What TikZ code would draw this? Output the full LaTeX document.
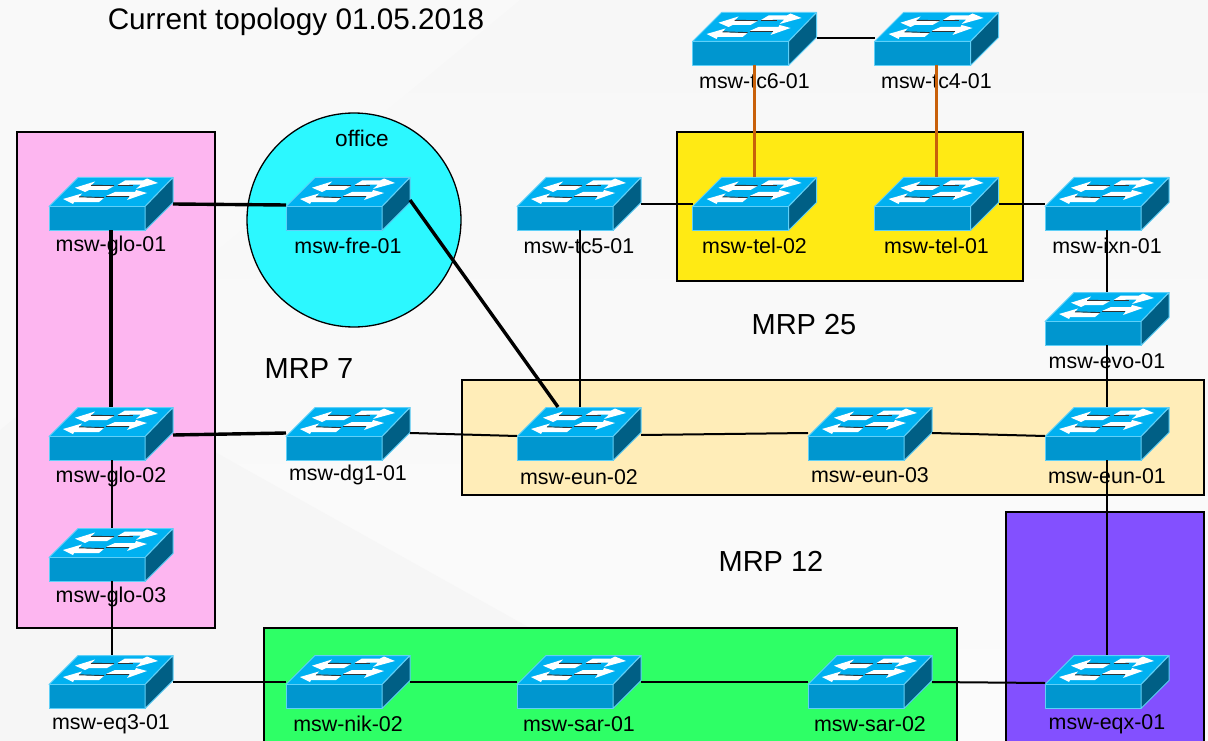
\documentclass[tikz,border=0pt]{standalone}
\usepackage{fontspec}
\setmainfont{Liberation Sans}
\definecolor{bgtop}{HTML}{F7F7F7}
\definecolor{bgbottom}{HTML}{FBFBFB}
\definecolor{bgsoft}{HTML}{F6F6F6}
\definecolor{bgpale}{HTML}{F9F9F9}
\definecolor{swtop}{HTML}{00B1F1}
\definecolor{swfront}{HTML}{0096CF}
\definecolor{swside}{HTML}{005F85}
\definecolor{swedge}{HTML}{5FD0F8}
\definecolor{pinkzone}{HTML}{FDB6F0}
\definecolor{cyanzone}{HTML}{2CF8FF}
\definecolor{yellowzone}{HTML}{FFEA14}
\definecolor{creamzone}{HTML}{FFEDB8}
\definecolor{purplezone}{HTML}{8350FF}
\definecolor{greenzone}{HTML}{2EFF66}
\definecolor{orangelink}{HTML}{C8600A}
\tikzset{
  x=1pt,y=-1pt,
  zone/.style={draw=black,line width=1.3pt},
  swbox/.style={rectangle,minimum width=124pt,minimum height=53pt,inner sep=0pt,outer sep=0pt},
  swlabel/.style={inner sep=0pt,font=\fontsize{21.4}{24}\selectfont},
  officelabel/.style={inner sep=0pt,font=\fontsize{22.6}{26}\selectfont},
  bigtext/.style={inner sep=0pt,font=\fontsize{29.7}{34}\selectfont},
  mrptext/.style={inner sep=0pt,font=\fontsize{29}{34}\selectfont},
  thinlink/.style={draw=black,line width=2pt},
  thicklink/.style={draw=black,line width=3.4pt},
  orangeline/.style={draw=orangelink,line width=3.5pt},
  swfacet/.style={draw=swedge,line width=1pt,line join=round},
  swarrow/.style={fill=white,draw=none},
  swshadow/.style={draw=black!80,line width=.9pt}
}
% name, left, top, label, label offset from top
\newcommand{\swunit}[5]{%
  \begin{scope}[shift={(#2,#3)}]
    \fill[swtop,swfacet] (0,29.5) -- (29,.5) -- (124,.5) -- (96,29.5) -- cycle;
    \fill[swfront,swfacet] (0,29.5) rectangle (96,53.5);
    \fill[swside,swfacet] (96,29.5) -- (124,.5) -- (124,25.5) -- (96,53.5) -- cycle;
    % upper right arrow
    \fill[swarrow] (76,3.5) -- (94,3.5) -- (98,1.5) -- (109,6) -- (87,12) -- (92,7.5) -- (68.5,8) -- cycle;
    \draw[swshadow] (68.5,8.4) -- (84,8.4);
    % upper left arrow
    \fill[swarrow] (26,10.7) -- (46,4.5) -- (42,8.5) -- (65,9) -- (58,13) -- (40,13) -- (36,15) -- cycle;
    \draw[swshadow] (42,8.3) -- (65,8.6);
    % lower right arrow
    \fill[swarrow] (66,15) -- (86,15) -- (87,13) -- (98,16) -- (78,23) -- (81,19) -- (57,19) -- cycle;
    \draw[swshadow] (57,19.4) -- (80,19.4);
    % lower left arrow
    \fill[swarrow] (14,22) -- (33,16.5) -- (30,20) -- (55,21) -- (50,25) -- (25,25) -- (24,27) -- cycle;
    \draw[swshadow] (30,19.8) -- (55,20.6);
    \node[swbox,anchor=north west] (#1) at (0,0) {};
    \node[swlabel] (#1-label) at (62,#5) {#4};
  \end{scope}%
}
\begin{document}
\begin{tikzpicture}
\useasboundingbox (0,0) rectangle (1208,741);
\clip (0,0) rectangle (1208,741);
% background
\shade[top color=bgtop,bottom color=bgbottom] (0,0) rectangle (1208,741);
\fill[bgsoft] (0,332) -- (530,628) -- (730,741) -- (0,741) -- cycle;
\fill[bgpale] (0,0) -- (520,0) -- (0,430) -- cycle;
% zones
\draw[zone,fill=pinkzone] (17,132) rectangle (215,628);
\draw[zone,fill=cyanzone] (354,220) circle (107);
\draw[zone,fill=yellowzone] (677,132) rectangle (1023,281);
\draw[zone,fill=creamzone] (462,380) rectangle (1204,495);
\draw[zone,fill=purplezone] (1006,512) rectangle (1204,760);
\draw[zone,fill=greenzone] (264,628) rectangle (957,760);
% titles
\node[bigtext] (title) at (296,22) {Current topology 01.05.2018};
\node[officelabel] (office) at (362,138) {office};
\node[mrptext] (mrp7) at (309,369) {MRP 7};
\node[mrptext] (mrp25) at (804,325) {MRP 25};
\node[mrptext] (mrp12) at (771,561) {MRP 12};
% switches
\swunit{tc6}{692.5}{12}{msw-tc6-01}{69}
\swunit{tc4}{874.5}{12}{msw-tc4-01}{69}
\swunit{glo1}{49}{177}{msw-glo-01}{69}
\swunit{fre}{286}{177}{msw-fre-01}{69}
\swunit{tc5}{517}{177}{msw-tc5-01}{69}
\swunit{tel2}{692.5}{177}{msw-tel-02}{69}
\swunit{tel1}{874.5}{177}{msw-tel-01}{69}
\swunit{ixn}{1045}{177}{msw-ixn-01}{69}
\swunit{evo}{1045}{292}{msw-evo-01}{69.5}
\swunit{glo2}{49}{407}{msw-glo-02}{69.5}
\swunit{dg1}{286}{407}{msw-dg1-01}{68}
\swunit{eun2}{517}{407}{msw-eun-02}{70.5}
\swunit{eun3}{808}{407}{msw-eun-03}{68}
\swunit{eun1}{1045}{407}{msw-eun-01}{69.5}
\swunit{glo3}{49}{528}{msw-glo-03}{69}
\swunit{eq3}{49}{655}{msw-eq3-01}{69}
\swunit{nik}{286}{655}{msw-nik-02}{69}
\swunit{sar1}{517}{655}{msw-sar-01}{69}
\swunit{sar2}{808}{655}{msw-sar-02}{69}
\swunit{eqx}{1045}{655}{msw-eqx-01}{69}
% thick links
\draw[thicklink] ([yshift=-.5pt]glo1.east) -- ([yshift=-1.5pt]fre.west);
\draw[thicklink] (glo1.south) -- (glo2.north);
\draw[thicklink] ([yshift=-1.5pt]glo2.east) -- ([yshift=.5pt]dg1.west);
\draw[thicklink] ([yshift=3.5pt]fre.east) -- ([xshift=-21pt]eun2.north);
% thin links
\draw[thinlink] ([yshift=.5pt]dg1.east) -- ([yshift=-2.5pt]eun2.west);
\draw[thinlink] ([yshift=-1.5pt]eun2.east) -- ([yshift=.5pt]eun3.west);
\draw[thinlink] ([yshift=.5pt]eun3.east) -- ([yshift=-2.5pt]eun1.west);
\draw[thinlink] ([xshift=1pt]tc5.south) -- ([xshift=1pt]eun2.north);
\draw[thinlink] (tc5.east) -- (tel2.west);
\draw[thinlink] (tel1.east) -- (ixn.west);
\draw[thinlink] (ixn.south) -- (evo.north);
\draw[thinlink] (evo.south) -- (eun1.north);
\draw[thinlink] (eun1.south) -- (eqx.north);
\draw[thinlink] ([xshift=1pt]glo2.south) -- ([xshift=1pt]glo3.north);
\draw[thinlink] ([xshift=1pt]glo3.south) -- ([xshift=1pt]eq3.north);
\draw[thinlink] (tc6.east) -- (tc4.west);
\draw[thinlink] (eq3.east) -- (nik.west);
\draw[thinlink] (nik.east) -- (sar1.west);
\draw[thinlink] (sar1.east) -- (sar2.west);
\draw[thinlink] ([yshift=-.5pt]sar2.east) -- ([yshift=-1.5pt]eqx.west);
% orange links
\draw[orangeline] (tc6.south) -- (tel2.north);
\draw[orangeline] (tc4.south) -- (tel1.north);
\end{tikzpicture}
\end{document}
